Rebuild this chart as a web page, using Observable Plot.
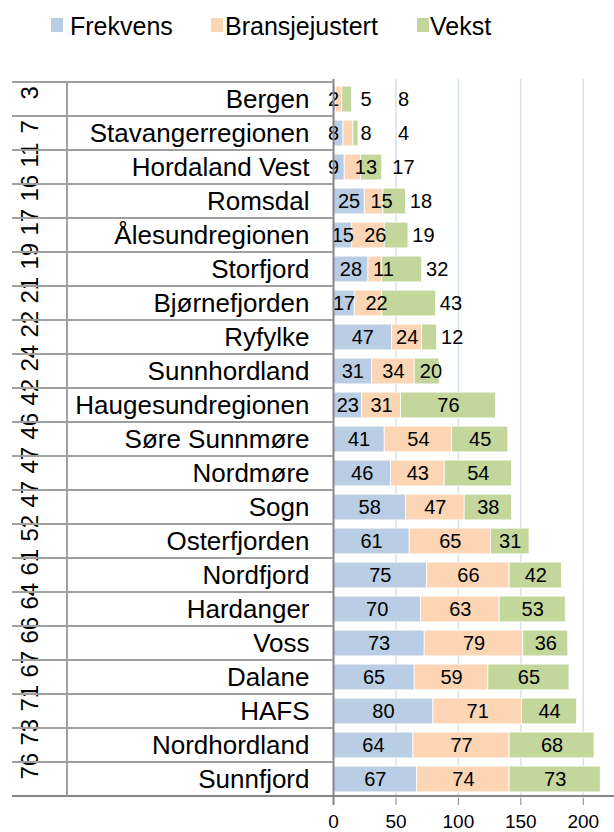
<!DOCTYPE html>
<html>
<head>
<meta charset="utf-8">
<script src="https://cdn.jsdelivr.net/npm/d3@7"></script>
<script src="https://cdn.jsdelivr.net/npm/@observablehq/plot@0.6"></script>
<style>
  html, body { margin: 0; padding: 0; background: #fff; }
  body { width: 614px; height: 832px; overflow: hidden; font-family: "Liberation Sans", Arial, sans-serif; }
  #legend { position: relative; width: 614px; height: 45px; }
  #legend .sw { position: absolute; top: 18px; width: 12px; height: 14px; }
  #legend .lb { position: absolute; top: 11px; font-size: 25px; line-height: 30px; color: #000; }
  #chart svg { display: block; }
</style>
</head>
<body>
<div id="legend"></div>
<div id="chart"></div>
<script>
const names = ["Bergen","Stavangerregionen","Hordaland Vest","Romsdal","Ålesundregionen","Storfjord","Bjørnefjorden","Ryfylke","Sunnhordland","Haugesundregionen","Søre Sunnmøre","Nordmøre","Sogn","Osterfjorden","Nordfjord","Hardanger","Voss","Dalane","HAFS","Nordhordland","Sunnfjord"];
const ranks = [3,7,11,16,17,19,21,22,24,42,46,47,47,52,61,64,66,67,71,73,76];
const frekvens = [2,8,9,25,15,28,17,47,31,23,41,46,58,61,75,70,73,65,80,64,67];
const bransjejustert = [5,8,13,15,26,11,22,24,34,31,54,43,47,65,66,63,79,59,71,77,74];
const vekst = [8,4,17,18,19,32,43,12,20,76,45,54,38,31,42,53,36,65,44,68,73];
const seriesNames = ["Frekvens","Bransjejustert","Vekst"];
const seriesColors = ["#b9cde5","#fcd5b5","#c3d69b"];
const xTicks = [0,50,100,150,200];

const seriesValues = [frekvens, bransjejustert, vekst];
const rows = names.flatMap((n, i) => seriesNames.map((s, j) => ({name: n, series: s, value: seriesValues[j][i]})));
const rankRows = names.map((n, i) => ({name: n, rank: ranks[i]}));

// Legend (HTML, above the SVG)
const legend = document.getElementById("legend");
const legPos = [[51, 70], [211, 225], [417, 430]];
seriesNames.forEach((s, j) => {
  const sw = document.createElement("div");
  sw.className = "sw"; sw.style.left = legPos[j][0] + "px"; sw.style.background = seriesColors[j];
  const lb = document.createElement("div");
  lb.className = "lb"; lb.style.left = legPos[j][1] + "px"; lb.textContent = s;
  legend.append(sw, lb);
});

const W = 614, H = 787, mL = 333, mR = 0, mT = 34, mB = 34;
const xMax = 225;
const k = (W - mL - mR) / xMax; // px per unit, for label placement rule

// value-label placement: centered in segment, pushed right when segment is too narrow
const labelRows = [];
names.forEach((n, i) => {
  const f = frekvens[i], b = bransjejustert[i], v = vekst[i];
  const l1 = f * k < 16 ? 0 : f / 2;
  const c2 = f + b / 2;
  const l2 = Math.max(c2, l1 + 26);
  const pushed = l2 > c2;
  const end = f + b + v;
  const l3 = (v < 20 || pushed) ? Math.max(end + 12, l2 + 30) : Math.max(f + b + v / 2, l2 + 30);
  labelRows.push({name: n, x: l1, label: f}, {name: n, x: l2, label: b}, {name: n, x: l3, label: v});
});

const plot = Plot.plot({
  width: W, height: H,
  marginLeft: mL, marginRight: mR, marginTop: mT, marginBottom: mB,
  style: {fontFamily: "'Liberation Sans', Arial, sans-serif", background: "white", overflow: "visible"},
  x: {domain: [0, xMax]},
  y: {domain: names, padding: 0},
  color: {domain: seriesNames, range: seriesColors},
  marks: [
    Plot.ruleX(xTicks.slice(1), {stroke: "#d6e1f0", strokeWidth: 1.5}),
    Plot.barX(rows, Plot.stackX({y: "name", x: "value", fill: "series", order: seriesNames, insetTop: 4.1, insetBottom: 4.1, stroke: "white", strokeWidth: 0.8})),
    Plot.text(labelRows, {x: "x", y: "name", text: "label", fontSize: 20, fill: "black"}),
    Plot.axisY({tickSize: 0, tickPadding: 24, fontSize: 26, label: null}),
    Plot.text(rankRows, {y: "name", text: "rank", frameAnchor: "left", dx: -303, rotate: -90, fontSize: 24, fill: "black"}),
    Plot.axisX({ticks: xTicks, tickSize: 7, tickPadding: 9, fontSize: 19, label: null, stroke: "#868686"}),
    Plot.ruleX([0], {stroke: "#868686", strokeWidth: 2, insetBottom: -7})
  ]
});

document.getElementById("chart").append(plot);

// table grid lines on the left, derived from the y scale
const ys = plot.scale("y");
const xs = plot.scale("x");
const svg = d3.select(plot);
const bounds = names.map(n => ys.apply(n));
bounds.push(ys.apply(names[names.length - 1]) + ys.bandwidth);
const x0 = xs.apply(0);
const g = svg.append("g").attr("stroke", "#a0a0a0").attr("stroke-width", 2);
bounds.forEach((y, i) => {
  g.append("line").attr("x1", 12).attr("x2", i === bounds.length - 1 ? W : x0).attr("y1", y).attr("y2", y)
    .attr("stroke", i === bounds.length - 1 ? "#868686" : "#a0a0a0");
});
g.append("line").attr("x1", 67).attr("x2", 67).attr("y1", bounds[0]).attr("y2", bounds[bounds.length - 1]);
</script>
</body>
</html>
